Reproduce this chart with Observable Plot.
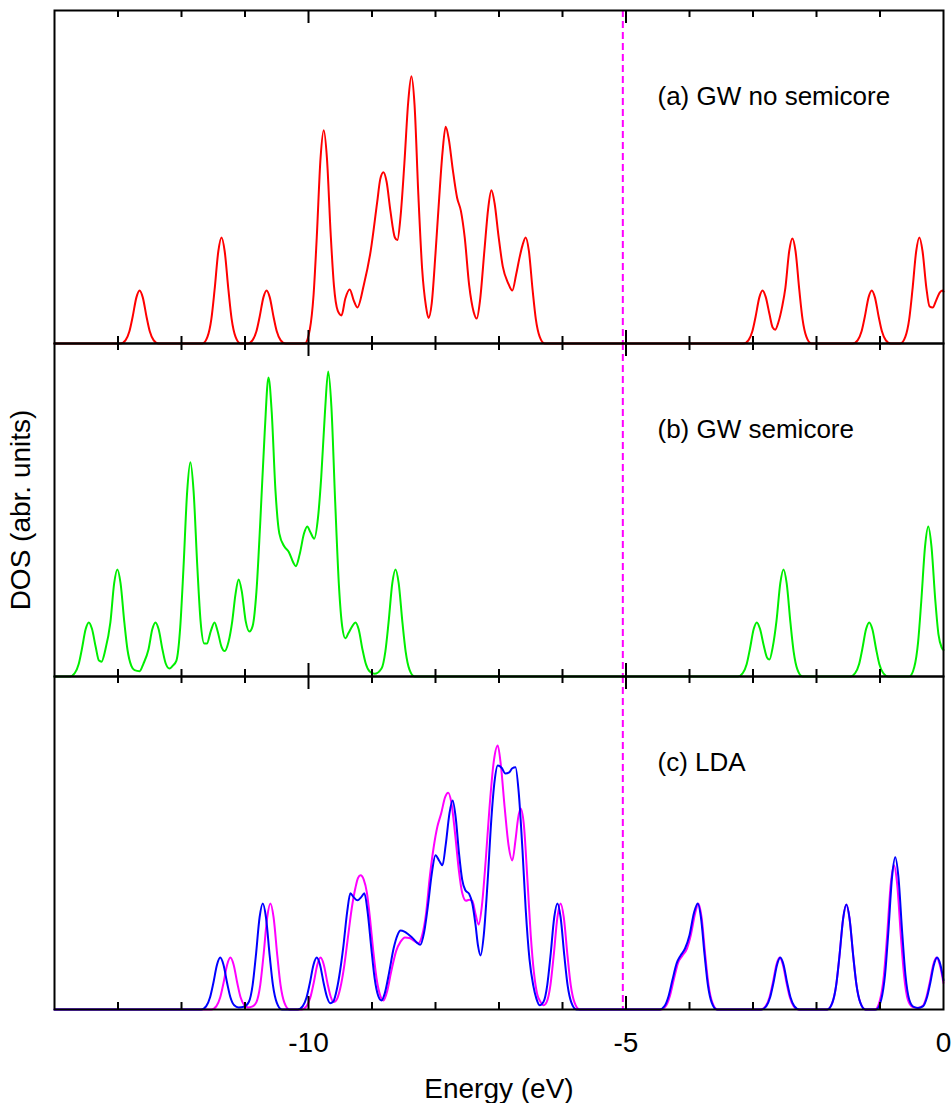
<!DOCTYPE html>
<html><head><meta charset="utf-8">
<script src="https://cdn.jsdelivr.net/npm/d3@7"></script>
<script src="https://cdn.jsdelivr.net/npm/@observablehq/plot@0.6"></script>
<style>body{margin:0;background:#fff}</style>
</head><body><div id="chart"></div>
<script>
const panels = ["a", "b", "c"];
const panelLabels = ["(a) GW no semicore", "(b) GW semicore", "(c) LDA"];
const fermiLevel = -5.05;
const labeledTicks = [-10, -5, 0];
const majorTicks = [-10, -5];
const minorTicks = [-13, -12, -11, -9, -8, -7, -6, -4, -3, -2, -1];

// [energy (eV), DOS (arb. units)]
const gwNoSemicore = [
[-14,0],[-12.96,0],[-12.88,0.065],[-12.82,0.23],[-12.77,0.5],[-12.71,0.87],[-12.66,1],[-12.61,0.87],[-12.55,0.5],[-12.5,0.23],[-12.44,0.065],[-12.36,0],
[-11.67,0],[-11.59,0.13],[-11.53,0.46],[-11.48,1.0],[-11.42,1.74],[-11.37,2],[-11.32,1.74],[-11.26,1.0],[-11.21,0.46],[-11.15,0.13],[-11.07,0],
[-10.96,0],[-10.88,0.065],[-10.82,0.23],[-10.77,0.5],[-10.71,0.87],[-10.66,1],[-10.61,0.87],[-10.55,0.5],[-10.5,0.23],[-10.44,0.065],[-10.36,0],
[-10.06,0],[-9.98,0.26],[-9.92,0.92],[-9.87,2.0],[-9.81,3.5],[-9.76,4.02],[-9.71,3.5],[-9.65,2.05],[-9.6,1.1],[-9.54,0.62],[-9.48,0.53],[-9.42,0.85],[-9.35,1.02],[-9.29,0.82],[-9.23,0.68],[-9.13,1.1],[-9.02,1.75],[-8.92,2.65],[-8.87,3.1],[-8.82,3.23],[-8.77,3.05],[-8.71,2.5],[-8.64,2.0],[-8.6,1.95],[-8.55,2.4],[-8.49,3.4],[-8.43,4.55],[-8.38,5.04],[-8.33,4.5],[-8.27,2.8],[-8.21,1.4],[-8.15,0.7],[-8.11,0.48],[-8.06,0.75],[-8.0,1.7],[-7.95,2.6],[-7.89,3.6],[-7.84,4.09],[-7.79,3.85],[-7.73,3.3],[-7.66,2.75],[-7.6,2.5],[-7.54,2.0],[-7.47,1.1],[-7.4,0.6],[-7.35,0.47],[-7.3,0.8],[-7.23,1.75],[-7.17,2.55],[-7.12,2.89],[-7.07,2.65],[-7.01,2.05],[-6.94,1.45],[-6.86,1.15],[-6.79,1.0],[-6.73,1.3],[-6.68,1.6],[-6.63,1.85],[-6.58,2.0],[-6.53,1.75],[-6.47,1.0],[-6.42,0.46],[-6.36,0.13],[-6.28,0],
[-3.15,0],[-3.07,0.065],[-3.01,0.23],[-2.96,0.5],[-2.9,0.87],[-2.85,1],[-2.8,0.88],[-2.74,0.55],[-2.69,0.3],[-2.65,0.26],[-2.6,0.4],[-2.54,0.7],[-2.49,1.05],[-2.43,1.74],[-2.38,1.98],[-2.33,1.74],[-2.27,1.0],[-2.22,0.46],[-2.16,0.13],[-2.08,0],
[-1.43,0],[-1.35,0.065],[-1.29,0.23],[-1.24,0.5],[-1.18,0.87],[-1.13,1],[-1.08,0.87],[-1.02,0.5],[-0.97,0.23],[-0.91,0.065],[-0.83,0],
[-0.68,0],[-0.6,0.13],[-0.54,0.46],[-0.49,1.0],[-0.43,1.74],[-0.38,2],[-0.33,1.74],[-0.27,1.05],[-0.22,0.7],[-0.17,0.68],[-0.12,0.8],[-0.06,0.96],[-0.02,1.0],[0,0.98]
];

const gwSemicore = [
[-14,0],[-13.76,0],[-13.68,0.066],[-13.62,0.23],[-13.57,0.51],[-13.51,0.89],[-13.46,1.02],[-13.41,0.9],[-13.35,0.55],[-13.3,0.3],[-13.26,0.28],[-13.2,0.5],[-13.12,1.02],[-13.06,1.76],[-13.01,2.02],[-12.96,1.76],[-12.9,1.02],[-12.85,0.5],[-12.79,0.2],[-12.74,0.12],[-12.66,0.1],[-12.6,0.24],[-12.52,0.51],[-12.46,0.89],[-12.41,1.02],[-12.36,0.89],[-12.3,0.51],[-12.25,0.25],[-12.19,0.15],[-12.14,0.2],[-12.08,0.3],[-12.02,0.93],[-11.97,2.02],[-11.91,3.5],[-11.86,4.04],[-11.81,3.5],[-11.75,2.05],[-11.7,1.05],[-11.64,0.62],[-11.6,0.62],[-11.54,0.85],[-11.48,1.02],[-11.43,0.85],[-11.37,0.56],[-11.32,0.48],[-11.26,0.65],[-11.2,1.05],[-11.15,1.55],[-11.1,1.83],[-11.05,1.6],[-10.99,1.05],[-10.93,0.85],[-10.88,0.95],[-10.82,1.6],[-10.76,2.9],[-10.69,4.6],[-10.63,5.64],[-10.58,5.0],[-10.52,3.5],[-10.46,2.7],[-10.38,2.45],[-10.31,2.35],[-10.24,2.15],[-10.2,2.08],[-10.14,2.3],[-10.07,2.7],[-10.02,2.83],[-9.97,2.72],[-9.91,2.6],[-9.85,3.0],[-9.8,3.75],[-9.74,5.0],[-9.69,5.75],[-9.64,5.1],[-9.58,3.3],[-9.52,1.7],[-9.47,0.95],[-9.42,0.72],[-9.37,0.82],[-9.31,0.95],[-9.26,1.02],[-9.21,0.89],[-9.15,0.51],[-9.1,0.25],[-9.04,0.1],[-8.96,0.05],[-8.85,0.15],[-8.79,0.47],[-8.74,1.01],[-8.68,1.76],[-8.63,2.02],[-8.58,1.76],[-8.52,1.01],[-8.47,0.47],[-8.41,0.13],[-8.33,0],
[-3.24,0],[-3.16,0.066],[-3.1,0.23],[-3.05,0.51],[-2.99,0.89],[-2.94,1.02],[-2.89,0.9],[-2.83,0.58],[-2.78,0.36],[-2.74,0.32],[-2.69,0.55],[-2.63,1.05],[-2.57,1.76],[-2.52,2.02],[-2.47,1.76],[-2.41,1.01],[-2.36,0.47],[-2.3,0.13],[-2.22,0],
[-1.47,0],[-1.39,0.066],[-1.33,0.23],[-1.28,0.51],[-1.22,0.89],[-1.17,1.02],[-1.12,0.89],[-1.06,0.51],[-1.01,0.23],[-0.95,0.066],[-0.87,0],
[-0.54,0],[-0.46,0.18],[-0.4,0.65],[-0.35,1.42],[-0.29,2.46],[-0.24,2.83],[-0.19,2.46],[-0.13,1.45],[-0.08,0.8],[-0.03,0.55],[0,0.5]
];

const ldaBlue = [
[-14,0],[-11.69,0],[-11.61,0.064],[-11.55,0.23],[-11.5,0.49],[-11.44,0.85],[-11.39,0.98],[-11.34,0.85],[-11.28,0.49],[-11.23,0.23],[-11.17,0.08],[-11.1,0.04],[-11.02,0.05],[-10.94,0.14],[-10.88,0.46],[-10.83,1.0],[-10.77,1.74],[-10.72,2.0],[-10.67,1.74],[-10.61,1.0],[-10.56,0.46],[-10.5,0.13],[-10.42,0],
[-10.17,0],[-10.09,0.064],[-10.03,0.23],[-9.98,0.49],[-9.92,0.85],[-9.87,0.98],[-9.82,0.85],[-9.76,0.49],[-9.71,0.24],[-9.66,0.12],[-9.61,0.15],[-9.55,0.4],[-9.5,0.75],[-9.45,1.2],[-9.39,1.85],[-9.34,2.19],[-9.29,2.12],[-9.23,2.06],[-9.17,2.12],[-9.12,2.19],[-9.07,1.85],[-9.01,1.15],[-8.96,0.6],[-8.9,0.25],[-8.85,0.17],[-8.8,0.3],[-8.73,0.7],[-8.66,1.15],[-8.6,1.4],[-8.55,1.49],[-8.49,1.47],[-8.43,1.42],[-8.37,1.36],[-8.3,1.27],[-8.24,1.22],[-8.18,1.45],[-8.12,1.95],[-8.06,2.55],[-8.0,2.91],[-7.94,2.8],[-7.89,2.72],[-7.84,3.1],[-7.78,3.7],[-7.73,3.94],[-7.68,3.6],[-7.63,2.95],[-7.58,2.45],[-7.53,2.25],[-7.47,2.18],[-7.42,2.0],[-7.37,1.6],[-7.33,1.2],[-7.29,1.02],[-7.24,1.4],[-7.18,2.4],[-7.12,3.6],[-7.07,4.3],[-7.02,4.6],[-6.96,4.56],[-6.9,4.45],[-6.84,4.47],[-6.79,4.55],[-6.74,4.57],[-6.69,4.1],[-6.63,3.0],[-6.58,1.9],[-6.52,0.95],[-6.46,0.45],[-6.41,0.2],[-6.36,0.08],[-6.3,0.14],[-6.24,0.46],[-6.19,1.0],[-6.13,1.74],[-6.08,2.0],[-6.03,1.74],[-5.97,1.0],[-5.92,0.46],[-5.86,0.13],[-5.78,0],
[-4.47,0],[-4.39,0.07],[-4.33,0.25],[-4.27,0.55],[-4.2,0.88],[-4.14,1.02],[-4.07,1.15],[-4.0,1.4],[-3.93,1.82],[-3.87,2.0],[-3.82,1.74],[-3.76,1.0],[-3.71,0.46],[-3.65,0.13],[-3.57,0],
[-2.87,0],[-2.79,0.064],[-2.73,0.23],[-2.68,0.49],[-2.62,0.85],[-2.57,0.98],[-2.52,0.85],[-2.46,0.49],[-2.41,0.23],[-2.35,0.064],[-2.27,0],
[-1.83,0],[-1.75,0.13],[-1.69,0.46],[-1.64,0.99],[-1.58,1.72],[-1.53,1.98],[-1.48,1.72],[-1.42,0.99],[-1.37,0.46],[-1.31,0.13],[-1.23,0],
[-1.06,0],[-0.98,0.19],[-0.92,0.66],[-0.87,1.44],[-0.81,2.5],[-0.76,2.87],[-0.71,2.5],[-0.65,1.44],[-0.6,0.66],[-0.54,0.19],[-0.47,0.05],[-0.4,0.03],[-0.32,0.064],[-0.26,0.23],[-0.21,0.49],[-0.15,0.85],[-0.1,0.98],[-0.05,0.85],[0,0.55]
];

const ldaMagenta = [
[-14,0],[-11.53,0],[-11.45,0.064],[-11.39,0.23],[-11.34,0.49],[-11.28,0.85],[-11.23,0.98],[-11.18,0.85],[-11.12,0.49],[-11.07,0.23],[-11.01,0.08],[-10.95,0.04],[-10.88,0.06],[-10.82,0.14],[-10.76,0.46],[-10.71,1.0],[-10.65,1.74],[-10.6,2.0],[-10.55,1.74],[-10.49,1.0],[-10.44,0.46],[-10.38,0.13],[-10.3,0],
[-10.11,0],[-10.03,0.064],[-9.97,0.23],[-9.92,0.49],[-9.86,0.85],[-9.81,0.98],[-9.76,0.85],[-9.7,0.49],[-9.65,0.24],[-9.6,0.14],[-9.55,0.2],[-9.5,0.4],[-9.44,0.8],[-9.38,1.35],[-9.32,1.9],[-9.26,2.3],[-9.22,2.48],[-9.18,2.53],[-9.13,2.45],[-9.08,2.2],[-9.03,1.7],[-8.98,1.1],[-8.93,0.6],[-8.88,0.3],[-8.82,0.17],[-8.76,0.35],[-8.7,0.7],[-8.62,1.1],[-8.55,1.28],[-8.48,1.36],[-8.41,1.35],[-8.34,1.3],[-8.27,1.25],[-8.21,1.4],[-8.15,1.8],[-8.09,2.5],[-8.03,3.05],[-7.97,3.45],[-7.91,3.7],[-7.85,4.0],[-7.8,4.09],[-7.75,3.9],[-7.69,3.3],[-7.63,2.6],[-7.58,2.2],[-7.52,2.05],[-7.47,2.07],[-7.42,2.05],[-7.37,1.8],[-7.32,1.6],[-7.27,1.95],[-7.21,2.8],[-7.15,3.8],[-7.08,4.7],[-7.02,4.98],[-6.97,4.6],[-6.91,3.8],[-6.85,3.1],[-6.79,2.81],[-6.74,3.2],[-6.7,3.6],[-6.66,3.79],[-6.61,3.5],[-6.55,2.4],[-6.5,1.4],[-6.45,0.7],[-6.4,0.3],[-6.35,0.15],[-6.3,0.08],[-6.25,0.14],[-6.19,0.46],[-6.14,1.0],[-6.08,1.74],[-6.03,2.0],[-5.98,1.74],[-5.92,1.0],[-5.87,0.46],[-5.81,0.13],[-5.73,0],
[-4.45,0],[-4.37,0.07],[-4.31,0.25],[-4.25,0.55],[-4.18,0.88],[-4.11,1.02],[-4.04,1.15],[-3.98,1.4],[-3.91,1.82],[-3.86,2.0],[-3.81,1.74],[-3.75,1.0],[-3.7,0.46],[-3.64,0.13],[-3.56,0],
[-2.88,0],[-2.8,0.064],[-2.74,0.23],[-2.69,0.49],[-2.63,0.85],[-2.58,0.98],[-2.53,0.85],[-2.47,0.49],[-2.42,0.23],[-2.36,0.064],[-2.28,0],
[-1.83,0],[-1.75,0.13],[-1.69,0.46],[-1.64,0.99],[-1.58,1.72],[-1.53,1.98],[-1.48,1.72],[-1.42,0.99],[-1.37,0.46],[-1.31,0.13],[-1.23,0],
[-1.08,0],[-1.0,0.18],[-0.94,0.63],[-0.89,1.36],[-0.83,2.37],[-0.78,2.72],[-0.73,2.37],[-0.67,1.36],[-0.62,0.63],[-0.56,0.18],[-0.49,0.05],[-0.41,0.03],[-0.33,0.064],[-0.27,0.23],[-0.22,0.49],[-0.16,0.85],[-0.11,0.98],[-0.06,0.85],[0,0.5]
];

const W = 952, H = 1103, mT = 10, mB = 94, mL = 54, mR = 9;
const facetH = (H - mT - mB) / panels.length;
const labelTable = panels.map((p, i) => ({panel: p, label: panelLabels[i]}));
const font = "'Liberation Sans', Arial, Helvetica, sans-serif";
const lineOpts = (panel, color) => ({
  x: d => d[0], y: d => d[1], fy: () => panel,
  stroke: color, strokeWidth: 2, curve: "monotone-x"
});

const chart = Plot.plot({
  width: W, height: H,
  marginTop: mT, marginBottom: mB, marginLeft: mL, marginRight: mR,
  style: {fontFamily: font, fontSize: "28px", color: "#000", background: "#fff"},
  x: {domain: [-14, 0], axis: null},
  y: {domain: [0, 6.28], axis: null},
  fy: {domain: panels, padding: 0, axis: null},
  marks: [
    Plot.ruleX([fermiLevel], {x: d => d, stroke: "#ff00ff", strokeWidth: 2, strokeDasharray: "7,4"}),
    Plot.line(gwNoSemicore, lineOpts("a", "#ff0000")),
    Plot.line(gwSemicore, lineOpts("b", "#00ee00")),
    Plot.line(ldaMagenta, lineOpts("c", "#ff00ff")),
    Plot.line(ldaBlue, lineOpts("c", "#0000ff")),
    Plot.frame({stroke: "#000", strokeWidth: 2}),
    Plot.ruleX(minorTicks, {x: d => d, insetTop: facetH - 7, stroke: "#000", strokeWidth: 2}),
    Plot.ruleX(minorTicks, {x: d => d, insetBottom: facetH - 7, stroke: "#000", strokeWidth: 2}),
    Plot.ruleX(majorTicks, {x: d => d, insetTop: facetH - 13, stroke: "#000", strokeWidth: 2}),
    Plot.ruleX(majorTicks, {x: d => d, insetBottom: facetH - 13, stroke: "#000", strokeWidth: 2}),
    Plot.text(labelTable, {fy: "panel", text: "label", frameAnchor: "top-left", dx: 603, dy: 86,
      textAnchor: "start", lineAnchor: "middle", fontSize: 26, fill: "#000"}),
    Plot.axisX({ticks: labeledTicks, tickSize: 0, tickPadding: 23, tickFormat: d => String(d),
      label: "Energy (eV)", labelAnchor: "center", labelOffset: 88, labelArrow: false, fontSize: 28}),
    Plot.axisFy({anchor: "left", tickSize: 0, tickFormat: () => "", label: "DOS (abr. units)",
      labelAnchor: "center", labelOffset: 44, labelArrow: false, fontSize: 28})
  ]
});
document.getElementById("chart").appendChild(chart);
</script>
</body></html>
